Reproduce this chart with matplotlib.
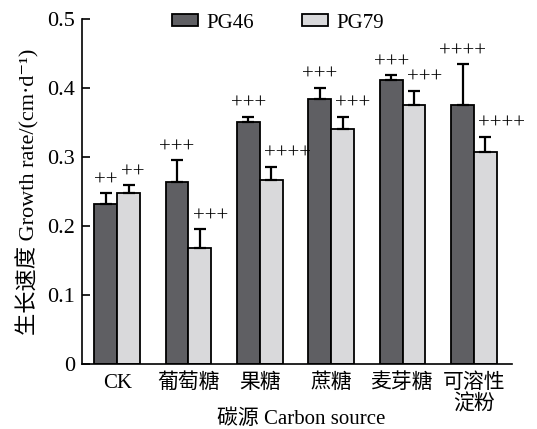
import numpy as np
import matplotlib
matplotlib.use("Agg")
import matplotlib.pyplot as plt

plt.rcParams['font.family'] = ['Liberation Serif', 'Noto Sans CJK SC', 'DejaVu Serif']
plt.rcParams['font.size'] = 15

categories = ['CK', '葡萄糖', '果糖', '蔗糖', '麦芽糖', '可溶性\n淀粉']
pg46 = [0.231, 0.264, 0.351, 0.384, 0.411, 0.375]
pg46_err = [0.016, 0.031, 0.007, 0.016, 0.007, 0.059]
pg79 = [0.248, 0.168, 0.267, 0.341, 0.375, 0.307]
pg79_err = [0.011, 0.027, 0.019, 0.017, 0.021, 0.022]
pg46_marks = ['++', '+++', '+++', '+++', '+++', '++++']
pg79_marks = ['++', '+++', '++++', '+++', '+++', '++++']

fig = plt.figure(figsize=(5.37, 4.29), dpi=100)
ax = fig.add_axes((0.153, 0.152, 0.80, 0.804))

x = np.arange(len(categories))
w = 0.32
ekw = dict(ecolor='black', elinewidth=1.6, capsize=4.5, capthick=1.6)
ax.bar(x - w/2, pg46, w, color='#5f5f63', edgecolor='black', linewidth=1.3,
       label='PG46', yerr=[[0]*6, pg46_err], error_kw=ekw)
ax.bar(x + w/2, pg79, w, color='#d9d9db', edgecolor='black', linewidth=1.3,
       label='PG79', yerr=[[0]*6, pg79_err], error_kw=ekw)

# significance marks above the error bars
for i in range(len(categories)):
    ax.text(x[i] - w/2, pg46[i] + pg46_err[i] + 0.018, pg46_marks[i],
            ha='center', va='center', fontsize=15)
    ax.text(x[i] + w/2 - 0.1, pg79[i] + pg79_err[i] + 0.018, pg79_marks[i],
            ha='left', va='center', fontsize=15)

ax.set_xlim(-0.49, 5.53)
ax.set_ylim(0, 0.5)
ax.set_yticks([0, 0.1, 0.2, 0.3, 0.4, 0.5])
ax.set_yticklabels(['0', '0.1', '0.2', '0.3', '0.4', '0.5'], fontsize=16)
ax.set_xticks(x)
ax.set_xticklabels(categories, linespacing=1.05, fontsize=15)
ax.tick_params(axis='x', length=0, pad=7)
ax.tick_params(axis='y', direction='in', length=6, width=1.2, pad=5)
ax.spines['top'].set_visible(False)
ax.spines['right'].set_visible(False)
ax.spines['left'].set_linewidth(1.2)
ax.spines['bottom'].set_linewidth(1.2)
ax.set_ylabel('生长速度 Growth rate/(cm·d⁻¹)', fontsize=16, va='center')
ax.yaxis.set_label_coords(-0.126, 0.5)
ax.set_xlabel('碳源 Carbon source', fontsize=15, va='center')
ax.xaxis.set_label_coords(0.51, -0.162)
ax.legend(loc='center', bbox_to_anchor=(0.455, 0.988), ncol=2, frameon=False,
          handlelength=1.25, handleheight=0.55, handletextpad=0.4,
          columnspacing=2.3, borderpad=0, fontsize=15)

fig.savefig('out.png', dpi=100)
